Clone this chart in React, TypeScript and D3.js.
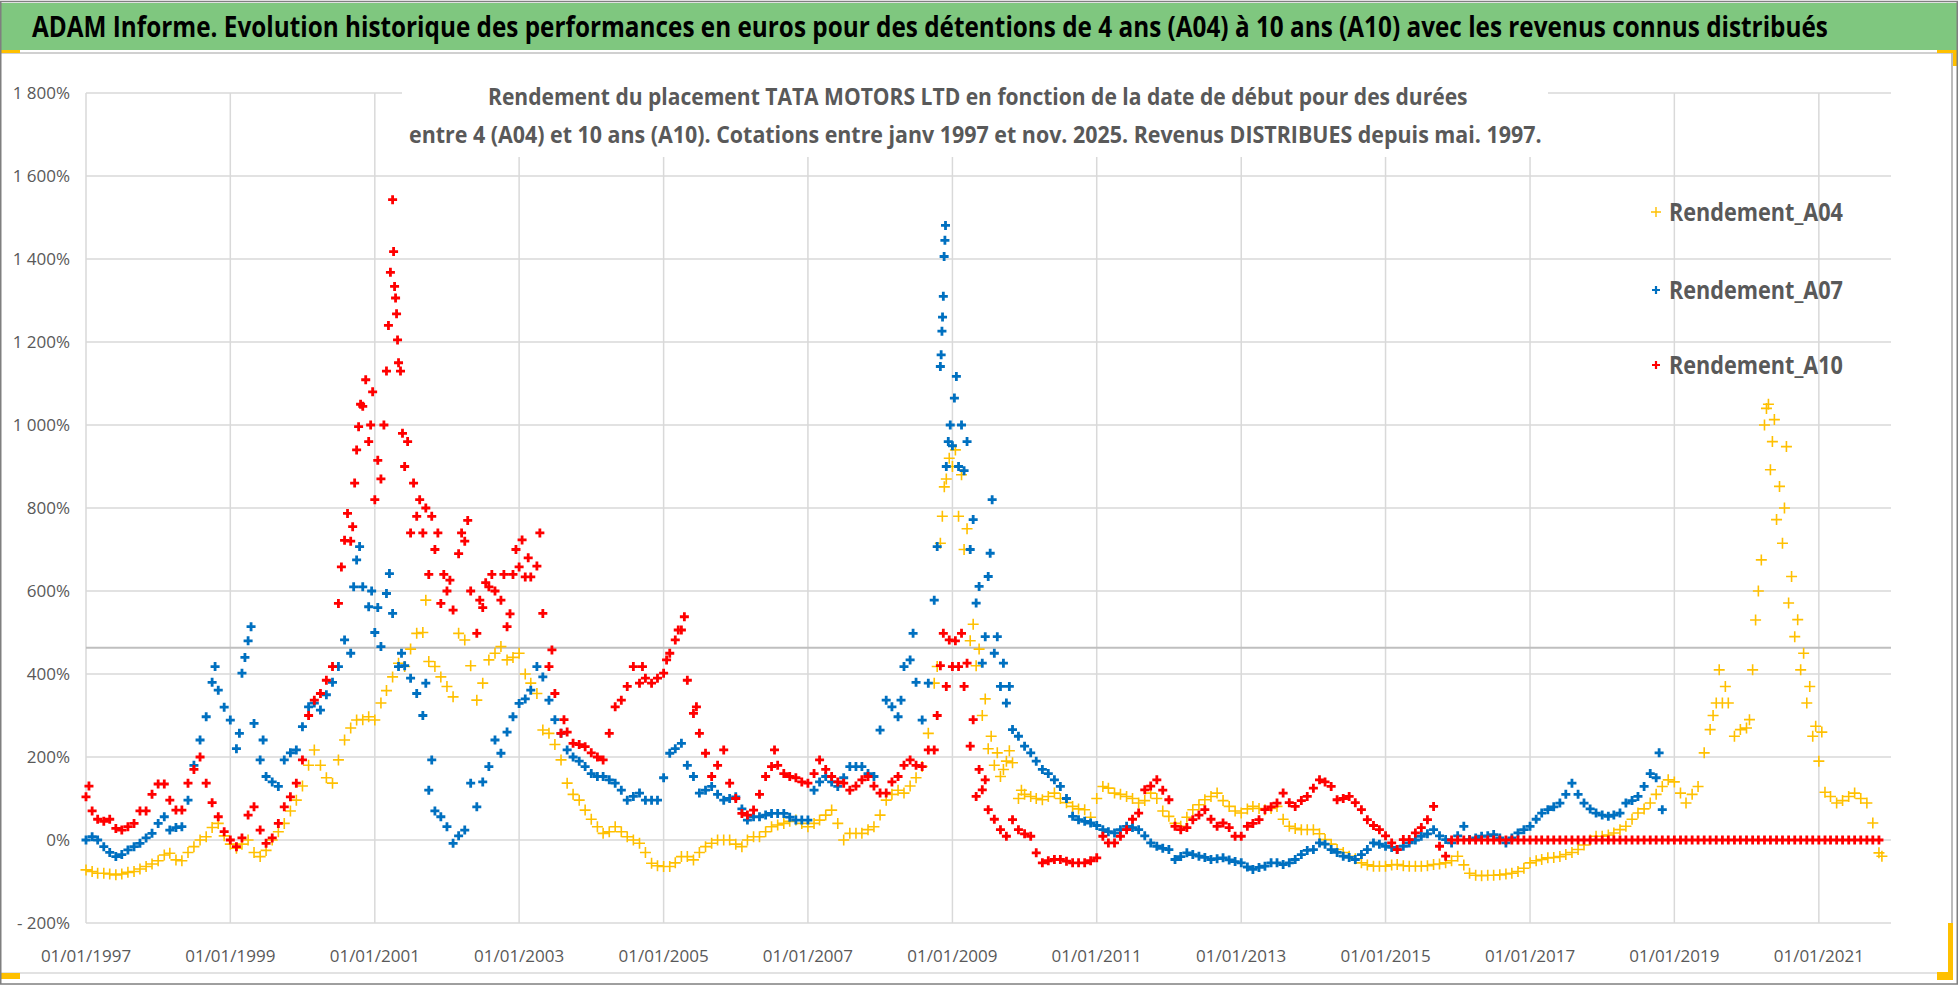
import { useLayoutEffect, useRef, useState } from "react";
import * as d3 from "d3";

// ---- data, monthly from 01/1997 ----
// an entry is either one value (%) or several values read inside the same month
type Entry = number | number[];

const seriesNames = ["Rendement_A04", "Rendement_A07", "Rendement_A10"];
const seriesColors = ["#FFC000", "#0070C0", "#FF0000"];

const a04Values: Entry[] = [
  -72, -76, -80, -80, -82, -84, -82, -78, -76, -70, -64, -58, // 1997
  -50, -36, -32, -48, -50, -30, -16, 0, 8, 30, 40, 10, // 1998
  -10, -20, -10, 0, -30, -40, -25, 0, 20, 40, 70, 96, // 1999
  130, 180, 217, 180, 150, 137, 193, 241, 270, 289, 290, 297, // 2000
  289, 330, 360, 393, 426, 418, 460, 498, [500, 578], 430, 418, 393, // 2001
  370, 345, 498, 482, 420, 337, 378, 434, 450, 466, 434, 440, // 2002
  450, 400, 378, 353, 265, 257, 230, 193, 137, 110, 96, 72, // 2003
  50, 32, 16, 20, 32, 20, 8, 0, -8, -30, -56, -62, // 2004
  -64, -64, -55, -40, -40, -48, -30, -16, -8, 0, 0, 0, // 2005
  -10, -16, 0, 8, 8, 20, 32, 36, 40, 45, 48, 40, // 2006
  32, 40, 48, 60, 72, 40, 0, 16, 16, 16, 25, 32, // 2007
  60, 96, 110, 120, 113, 130, 150, 177, 257, [378, 418], [715, 780, 851], [870, 920], // 2008
  [900, 940], [780, 880], [700, 750], [480, 520], [420, 460], [300, 340], [220, 250], [180, 210], [153, 170], [190, 215], 186, [100, 120], // 2009
  110, 105, 100, 97, 105, 113, 100, 90, 81, 75, 73, 55, // 2010
  100, 129, 125, 113, 110, 105, 100, 89, 95, 113, 100, 70, // 2011
  57, 40, 33, 55, 73, 85, 97, 105, 113, 95, 81, 70, // 2012
  65, 75, 81, 76, 73, 76, 81, 50, 33, 28, 25, 25, // 2013
  25, 15, 1, -10, -23, -30, -39, -45, -55, -60, -63, -63, // 2014
  -63, -60, -59, -62, -63, -63, -63, -62, -59, -58, -55, -50, // 2015
  -39, -60, -80, -85, -86, -85, -85, -84, -82, -80, -76, -68, // 2016
  -55, -50, -47, -43, -42, -40, -35, -30, -23, -12, 0, 9, // 2017
  9, 12, 17, 25, 33, 50, 65, 75, 89, 110, 129, 145, // 2018
  140, 113, 89, 110, 129, 210, [266, 300], [330, 410], [330, 370], 330, 250, 266, // 2019
  [270, 290], [410, 530], [600, 675], [1000, 1040, 1050], [892, 960, 1013], [772, 852], [715, 800, 948], [571, 635], [490, 531], [410, 450], [330, 370], [250, 274], // 2020
  [190, 260], 115, 105, 89, 95, 105, 113, 100, 89, 41, [-31, -39], // 2021
];

const a07Values: Entry[] = [
  0, 8, 0, -16, -30, -40, -35, -24, -16, -8, 5, 16, // 1997
  40, 56, 24, 30, 32, 96, 180, 241, 297, [380, 418], 361, 320, // 1998
  289, [220, 257], [402, 440], [480, 514], 281, [193, 241], 153, 140, 129, 193, 210, 217, // 1999
  273, 321, 330, 313, 350, 380, 418, 482, [450, 610], [675, 707], 610, [562, 600], // 2000
  [500, 560], 466, [594, 642], 546, [418, 450], 420, 390, 353, [300, 378], [120, 193], 70, 56, // 2001
  32, -8, 10, 24, 137, 80, 140, 177, 241, 209, 260, 297, // 2002
  329, 340, 361, 418, 393, 337, 290, 257, 217, 200, 190, 177, // 2003
  160, 153, 153, 145, 137, 120, 96, 105, 113, 96, 96, 96, // 2004
  150, 209, 220, 233, 180, 153, 113, 120, 129, 110, 96, 100, // 2005
  104, 75, 48, 56, 56, 60, 64, 64, 64, 55, 48, 48, // 2006
  48, 120, 140, 153, 140, 129, 150, 177, 177, 177, 160, 153, // 2007
  265, 337, 321, [297, 337], 418, [434, 498], 380, 289, 378, [578, 707], [1141, 1169, 1226, 1260, 1310, 1406, 1445, 1481], [900, 960, 1000], // 2008
  [950, 1065, 1117], [900, 1000], [890, 960], [700, 772], [571, 611], [426, 490], [635, 691, 820], [450, 490], [370, 426], [330, 370], 266, 250, // 2009
  226, 210, 190, 170, 160, 145, 129, 100, 57, 49, 45, 41, // 2010
  35, 25, 20, 17, 25, 33, 30, 25, 10, -7, -15, -20, // 2011
  -23, -47, -40, -31, -35, -39, -42, -47, -45, -43, -48, -52, // 2012
  -55, -65, -71, -66, -63, -55, -55, -59, -55, -47, -35, -25, // 2013
  -23, -7, -10, -23, -30, -39, -42, -47, -35, -23, -7, -10, // 2014
  -15, -18, -23, -15, -7, 0, 9, 15, 25, 10, 1, -7, // 2015
  10, 33, 1, 5, 9, 10, 13, 5, -7, 5, 17, 25, // 2016
  33, 50, 65, 73, 80, 89, 110, 137, 110, 89, 75, 65, // 2017
  60, 57, 60, 65, 89, 95, 105, 129, 160, [150, 210], 73, // 2018
];

const a10Values: Entry[] = [
  [104, 130], 70, 50, 45, 50, 28, 24, 32, 40, 70, 70, 110, // 1997
  135, 135, 96, 72, 72, 137, 170, 200, 137, 90, 56, 20, // 1998
  0, -16, 5, 60, 80, 24, -8, 5, 40, 80, 104, 137, // 1999
  193, 300, 337, 353, 385, 418, [570, 658], [722, 787], [720, 755, 860], [940, 996, 1050], [1045, 1109], [960, 1000, 1080], // 2000
  [820, 915], [870, 1000], [1130, 1240, 1368], [1543, 1418, 1334, 1306, 1268, 1205], [1150, 1130, 980], [900, 960], [740, 860], [780, 820], [740, 800], [640, 780], [700, 740], [570, 640], // 2001
  [600, 626], 554, [690, 740], [720, 770], 600, [498, 578], [560, 620], [610, 640], 600, [578, 640], [514, 545], [640, 700], // 2002
  [658, 723], [634, 680], 634, [660, 740], 546, [418, 458], 353, [257, 290], 260, 233, 230, 225, // 2003
  210, 200, 193, 257, 321, 337, 370, 418, [378, 418], 390, 378, 390, // 2004
  [402, 434], 450, [482, 506], [506, 538], 385, [305, 321], 257, 209, 153, 180, 217, 137, // 2005
  100, 64, 60, 72, 110, 153, [177, 217], 180, 160, 153, 150, 140, // 2006
  137, 160, 193, 170, 153, 140, 137, 120, 130, 145, 153, 130, // 2007
  113, 113, 140, 153, 180, 193, 180, 177, 217, [217, 300], [420, 498], [370, 482], // 2008
  [418, 480], [418, 498], [370, 426], [226, 290], [105, 170], [121, 145], 73, 50, 25, 9, 49, 25, // 2009
  15, 9, -31, -55, -50, -47, -47, -51, -55, -55, -55, -50, // 2010
  -43, 9, -7, -7, 9, 25, 50, 65, 121, 130, 145, 120, // 2011
  97, 33, 25, 30, 49, 60, 73, 50, 33, 41, 30, 9, // 2012
  9, 33, 40, 49, 73, 80, 89, 113, 90, 81, 95, 105, // 2013
  125, 145, 140, 129, 97, 100, 105, 90, 73, 49, 35, 25, // 2014
  10, -7, -23, 1, 1, 17, 30, 49, 81, -15, -39, 0, // 2015
  0, 0, 0, 0, 0, 0, 0, 0, 0, 0, 0, 0, // 2016
  0, 0, 0, 0, 0, 0, 0, 0, 0, 0, 0, 0, // 2017
  0, 0, 0, 0, 0, 0, 0, 0, 0, 0, 0, 0, // 2018
  0, 0, 0, 0, 0, 0, 0, 0, 0, 0, 0, 0, // 2019
  0, 0, 0, 0, 0, 0, 0, 0, 0, 0, 0, 0, // 2020
  0, 0, 0, 0, 0, 0, 0, 0, 0, 0, 0, // 2021
];

const yTicks = [-200, 0, 200, 400, 600, 800, 1000, 1200, 1400, 1600, 1800];
const xTickYears = [1997, 1999, 2001, 2003, 2005, 2007, 2009, 2011, 2013, 2015, 2017, 2019, 2021];
const strayLineValue = 463; // grey horizontal line visible across the plot

const titleText =
  "ADAM Informe. Evolution historique des performances en euros pour des détentions de 4 ans (A04) à 10 ans (A10) avec les revenus connus distribués";
const subtitle1 =
  "Rendement du placement TATA MOTORS LTD en fonction de la date de début pour des durées";
const subtitle2 =
  "entre 4 (A04) et 10 ans (A10). Cotations entre janv 1997 et nov. 2025. Revenus DISTRIBUES depuis mai. 1997.";

const W = 1958;
const H = 985;
const FONT = "'Open Sans', 'DejaVu Sans', sans-serif";
const GREY_TEXT = "#595959";
const GRID = "#d9d9d9";

const startDate = new Date(1997, 0, 1);

function toPoints(vals: Entry[]) {
  const pts: { date: Date; value: number }[] = [];
  vals.forEach((v, i) => {
    const month = d3.timeMonth.offset(startDate, i);
    const arr = Array.isArray(v) ? v : [v];
    arr.forEach((val, k) => {
      const d = d3.timeDay.offset(month, Math.round((k * 30) / arr.length));
      pts.push({ date: d, value: val });
    });
  });
  return pts;
}

const fr = d3.formatLocale({ decimal: ",", thousands: " ", grouping: [3], currency: ["", " €"] });
const fmtInt = fr.format(",d");
const fmtPct = (v: number) => (v < 0 ? "- " : "") + fmtInt(Math.abs(v)) + "%";
const fmtDate = d3.timeFormat("%d/%m/%Y");

// text squeezed horizontally to a given width (the reference uses a condensed face)
function FitText({ x, y, width, children, ...rest }: any) {
  const ref = useRef<SVGTextElement>(null);
  const [sx, setSx] = useState(1);
  useLayoutEffect(() => {
    if (ref.current) {
      const w = ref.current.getComputedTextLength();
      if (w > 0) setSx(width / w);
    }
  }, [width, children]);
  return (
    <text ref={ref} transform={`translate(${x},${y}) scale(${sx},1)`} {...rest}>
      {children}
    </text>
  );
}

export default function App() {
  const x = d3
    .scaleTime()
    .domain([new Date(1997, 0, 1), new Date(2022, 0, 1)])
    .range([86, 1891]);
  const y = d3.scaleLinear().domain([-200, 1800]).range([923, 93]);

  const allSeries = [a04Values, a07Values, a10Values].map(toPoints);
  const markerSize = [5.5, 4.5, 4.5];
  const markerWidth = [1.6, 2.8, 2.8];

  const plusPath = (pts: { date: Date; value: number }[], s: number) =>
    pts
      .map((p) => {
        const px = x(p.date);
        const py = y(p.value);
        return `M${px - s},${py}h${2 * s}M${px},${py - s}v${2 * s}`;
      })
      .join("");

  const [x0, x1] = x.range();

  return (
    <svg
      width={W}
      height={H}
      style={{ position: "absolute", left: 0, top: 0, display: "block", background: "#fff" }}
      fontFamily={FONT}
    >
      {/* title bar */}
      <rect x={0} y={3} width={1957} height={47} fill="#7fc77f" />
      <FitText x={32} y={37} width={1796} fontSize={28} fontWeight="bold" fill="#000">
        {titleText}
      </FitText>
      <line x1={0} x2={1952} y1={53} y2={53} stroke="#d0d0d0" strokeWidth={2} />
      <rect x={0} y={50} width={20} height={3} fill="#FFC000" />
      <rect x={1937} y={50} width={21} height={3} fill="#FFC000" />
      <rect x={1953} y={50} width={5} height={16} fill="#FFC000" />

      {/* horizontal grid */}
      {yTicks.map((t) => (
        <line key={"gy" + t} x1={x0} x2={x1} y1={y(t)} y2={y(t)} stroke={GRID} strokeWidth={1.5} />
      ))}
      {/* vertical grid */}
      {xTickYears.map((yr) => {
        const px = x(new Date(yr, 0, 1));
        return (
          <line key={"gx" + yr} x1={px} x2={px} y1={y(1800)} y2={y(-200)} stroke={GRID} strokeWidth={1.5} />
        );
      })}
      <line
        x1={x0}
        x2={x1}
        y1={y(strayLineValue)}
        y2={y(strayLineValue)}
        stroke="#bfbfbf"
        strokeWidth={2}
      />

      {/* subtitle box hides the top of the grid */}
      <rect x={402} y={56} width={1146} height={101} fill="#fff" />
      <FitText x={488} y={105} width={980} fontSize={24} fontWeight="bold" fill={GREY_TEXT}>
        {subtitle1}
      </FitText>
      <FitText x={409} y={143} width={1133} fontSize={24} fontWeight="bold" fill={GREY_TEXT}>
        {subtitle2}
      </FitText>

      {/* y labels */}
      {yTicks.map((t) => (
        <text key={"ly" + t} x={70} y={y(t)} dy="0.36em" textAnchor="end" fontSize={17} fill={GREY_TEXT}>
          {fmtPct(t)}
        </text>
      ))}
      {/* x labels */}
      {xTickYears.map((yr) => {
        const d = new Date(yr, 0, 1);
        return (
          <text key={"lx" + yr} x={x(d)} y={962} textAnchor="middle" fontSize={17} fill={GREY_TEXT}>
            {fmtDate(d)}
          </text>
        );
      })}

      {/* series */}
      {allSeries.map((pts, i) => (
        <path
          key={seriesNames[i]}
          d={plusPath(pts, markerSize[i])}
          stroke={seriesColors[i]}
          strokeWidth={markerWidth[i]}
          fill="none"
        />
      ))}

      {/* legend */}
      {seriesNames.map((name, i) => {
        const cy = [212, 290, 365][i];
        const s = i === 0 ? 5 : 4;
        return (
          <g key={"lg" + name}>
            <path
              d={`M${1656 - s},${cy}h${2 * s}M1656,${cy - s}v${2 * s}`}
              stroke={seriesColors[i]}
              strokeWidth={i === 0 ? 1.4 : 2.2}
            />
            <FitText x={1669} y={cy + 9} width={174} fontSize={25} fontWeight="bold" fill={GREY_TEXT}>
              {name}
            </FitText>
          </g>
        );
      })}

      {/* frame */}
      <line x1={1952} x2={1952} y1={53} y2={975} stroke="#a6a6a6" strokeWidth={1.5} />
      <line x1={0} x2={1952} y1={973} y2={973} stroke="#d9d9d9" strokeWidth={1.5} />
      <rect x={1948} y={923} width={5} height={57} fill="#FFC000" />
      <rect x={1937} y={972} width={16} height={8} fill="#FFC000" />
      <rect x={0} y={973} width={20} height={6} fill="#FFC000" />
      <rect x={0.75} y={1.5} width={1956.5} height={982.5} fill="none" stroke="#7f7f7f" strokeWidth={1.5} />
    </svg>
  );
}
